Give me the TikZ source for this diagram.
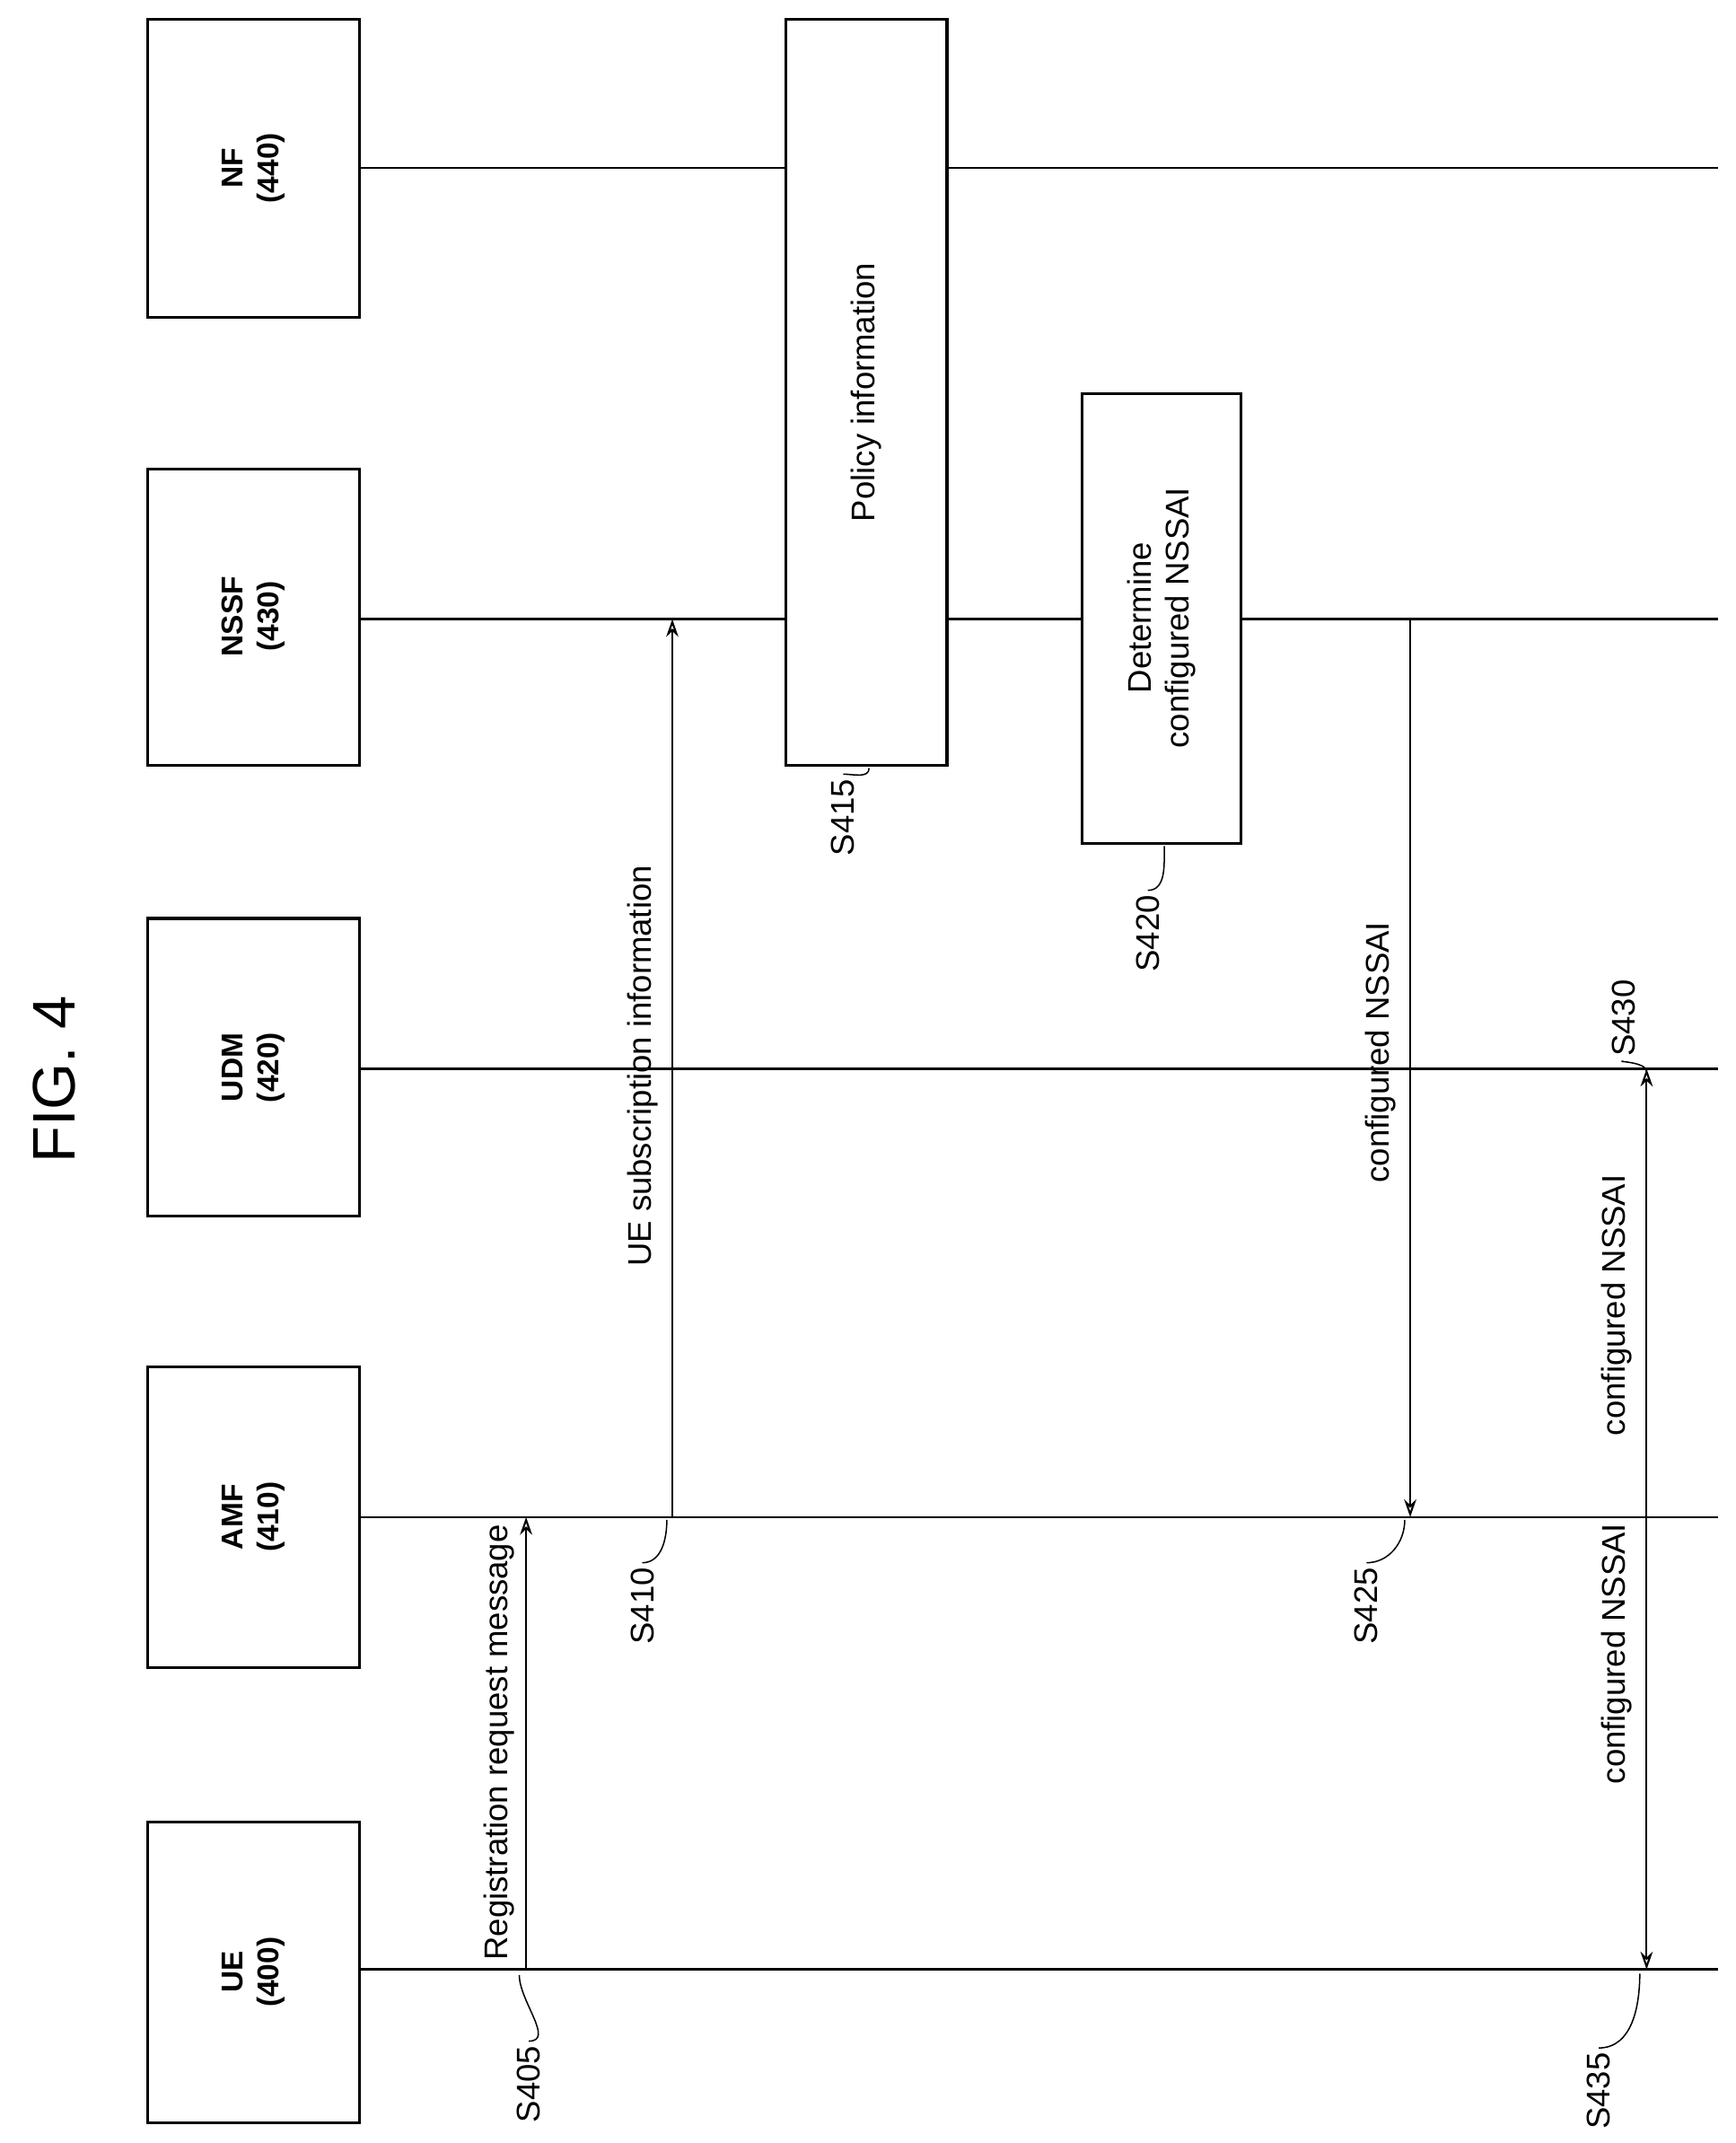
\documentclass[tikz,border=0pt]{standalone}
\usepackage{fontspec}
\setmainfont{Liberation Sans}
\usetikzlibrary{arrows.meta}
\begin{document}
\begin{tikzpicture}[x=1pt,y=-1pt,
 box/.style={draw,line width=2pt,inner sep=0pt},
 lbl/.style={rotate=90,font=\fontsize{24}{28}\selectfont,align=center},
 ent/.style={rotate=90,font=\fontsize{22}{26}\selectfont\bfseries,align=center},
 life/.style={line width=1.6pt},
 msg/.style={line width=1.4pt,-{Stealth[length=13pt,width=9pt,open]}},
 dmsg/.style={line width=1.4pt,{Stealth[length=13pt,width=9pt,open]}-{Stealth[length=13pt,width=9pt,open]}},
 tick/.style={line width=1pt}]
\useasboundingbox (0,0) rectangle (1270,1568);
\node[rotate=90,font=\fontsize{44}{50}\selectfont\rmfamily] (title) at (40,790) {FIG. 4};
% entity boxes
\draw[box] (108,1333) rectangle (263,1553); \node[ent] (ue) at (185.5,1443) {UE\\(400)};
\draw[box] (108,1000) rectangle (263,1220); \node[ent] (amf) at (185.5,1110) {AMF\\(410)};
\draw[box] (108,672) rectangle (263,890);   \node[ent] (udm) at (185.5,781) {UDM\\(420)};
\draw[box] (108,343) rectangle (263,560);   \node[ent] (nssf) at (185.5,451) {NSSF\\(430)};
\draw[box] (108,14) rectangle (263,232);    \node[ent] (nf) at (185.5,123) {NF\\(440)};
% lifelines
\foreach \n/\y in {ue/1441,amf/1110,udm/782,nssf/453,nf/123}{
  \coordinate (\n s) at (263,\y); \coordinate (\n e) at (1257,\y);
  \draw[life] (\n s) -- (\n e);
}
% boxes on lifelines
\draw[box,fill=white] (575,14) rectangle (693,560);
\node[lbl] (pol) at (634,287) {Policy information};
\draw[box,fill=white] (792,288) rectangle (908,617);
\node[lbl] (det) at (850,452) {Determine\\configured NSSAI};
% messages
\coordinate (m1a) at (385,1441); \coordinate (m1b) at (385,1110);
\draw[msg] (m1a) -- (m1b);
\node[lbl,anchor=south] (t1) at (380,1275) {Registration request message};
\coordinate (m2a) at (492,1110); \coordinate (m2b) at (492,453);
\draw[msg] (m2a) -- (m2b);
\node[lbl,anchor=south] (t2) at (485,780) {UE subscription information};
\coordinate (m3a) at (1032,453); \coordinate (m3b) at (1032,1110);
\draw[msg] (m3a) -- (m3b);
\node[lbl,anchor=south] (t3) at (1025,770) {configured NSSAI};
\coordinate (m4a) at (1205,1441); \coordinate (m4b) at (1205,782);
\draw[dmsg] (m4a) -- (m4b);
\node[lbl,anchor=south] (t4) at (1198,1210) {configured NSSAI};
\node[lbl,anchor=south] (t5) at (1198,955) {configured NSSAI};
% step labels
\node[lbl] (s405) at (387,1525) {S405};
\draw[tick] (s405.east) to[out=0,in=-90] (380,1445);
\node[lbl] (s410) at (470,1175) {S410};
\draw[tick] (s410.east) to[out=0,in=-90] (488,1112);
\node[lbl] (s415) at (617,598) {S415};
\draw[tick] (s415.east) to[out=0,in=-90] (636,562);
\node[lbl] (s420) at (840,683) {S420};
\draw[tick] (s420.east) to[out=0,in=-90] (852,619);
\node[lbl] (s425) at (1000,1175) {S425};
\draw[tick] (s425.east) to[out=0,in=-90] (1028,1112);
\node[lbl] (s430) at (1188,745) {S430};
\draw[tick] (s430.west) to[out=180,in=90] (1205,784);
\node[lbl] (s435) at (1170,1530) {S435};
\draw[tick] (s435.east) to[out=0,in=-90] (1200,1444);
\end{tikzpicture}
\end{document}
